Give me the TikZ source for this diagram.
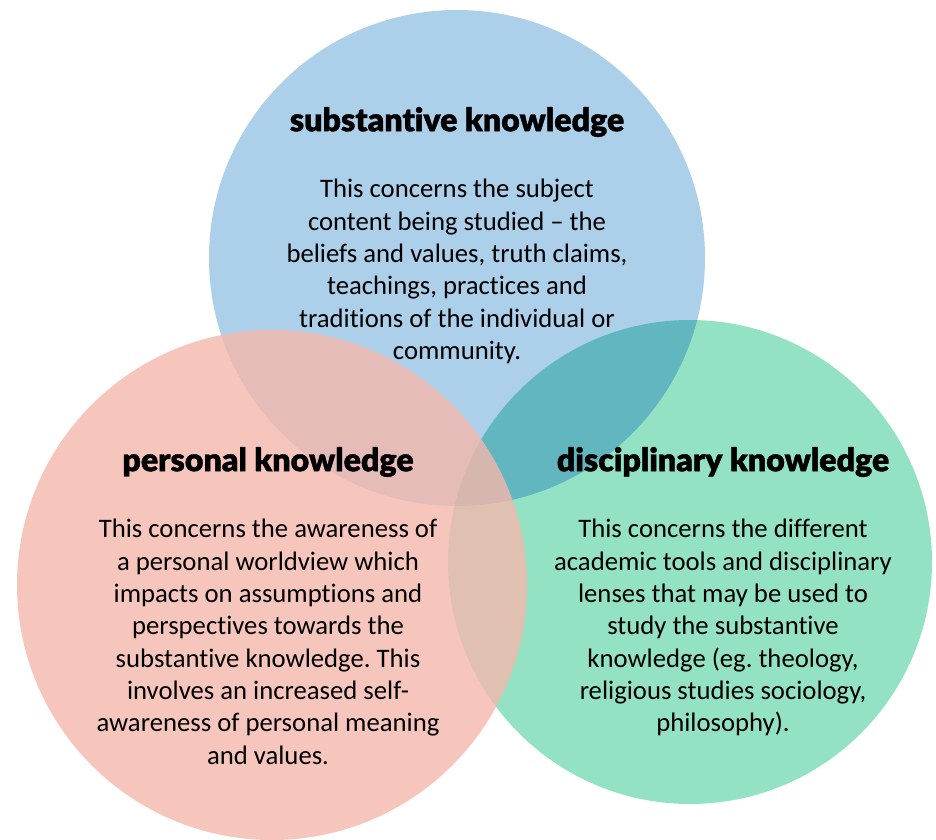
\documentclass[tikz,border=0pt]{standalone}
\usepackage{fontspec}
\setmainfont{Carlito}[Ligatures=NoCommon]
\newfontfamily\headfont{Lato Black}[FakeBold=1.2,Ligatures=NoCommon]
\usetikzlibrary{positioning}
\definecolor{bluewash}{RGB}{172,208,234}
\definecolor{greenwash}{RGB}{148,226,196}
\definecolor{tealwash}{RGB}{98,182,192}
\definecolor{pinkwash}{RGB}{244,184,172}
\frenchspacing
\begin{document}
\begin{tikzpicture}[x=0.02cm,y=-0.02cm,
	heading/.style={font=\headfont\fontsize{18.3}{22}\selectfont},
	bodytext/.style={align=center,font=\fontsize{15.2}{18.4}\selectfont}]
	
	\useasboundingbox (0,0) rectangle (936,839);
	
	\fill[bluewash] (457,258) circle (248);
	\fill[greenwash] (690,562) circle (242);
	\begin{scope}
		\clip (457,258) circle (248);
		\fill[tealwash] (690,562) circle (242);
	\end{scope}
	\fill[pinkwash,fill opacity=0.8] (272,585) circle (255);
	
	\node[heading] (subst) at (457,122) {substantive knowledge};
	\node[bodytext,below=17pt of subst] (substtext) {This concerns the subject\\content being studied -- the\\beliefs and values, truth claims,\\teachings, practices and\\traditions of the individual or\\community.};
	
	\node[heading] (pers) at (268,462) {personal knowledge};
	\node[bodytext,below=17pt of pers] (perstext) {This concerns the awareness of\\a personal worldview which\\impacts on assumptions and\\perspectives towards the\\substantive knowledge. This\\involves an increased self-\\awareness of personal meaning\\and values.};
	
	\node[heading] (disc) at (723,462) {disciplinary knowledge};
	\node[bodytext,below=17pt of disc] (disctext) {This concerns the different\\academic tools and disciplinary\\lenses that may be used to\\study the substantive\\knowledge (eg. theology,\\religious studies sociology,\\philosophy).};
	
\end{tikzpicture}
\end{document}
